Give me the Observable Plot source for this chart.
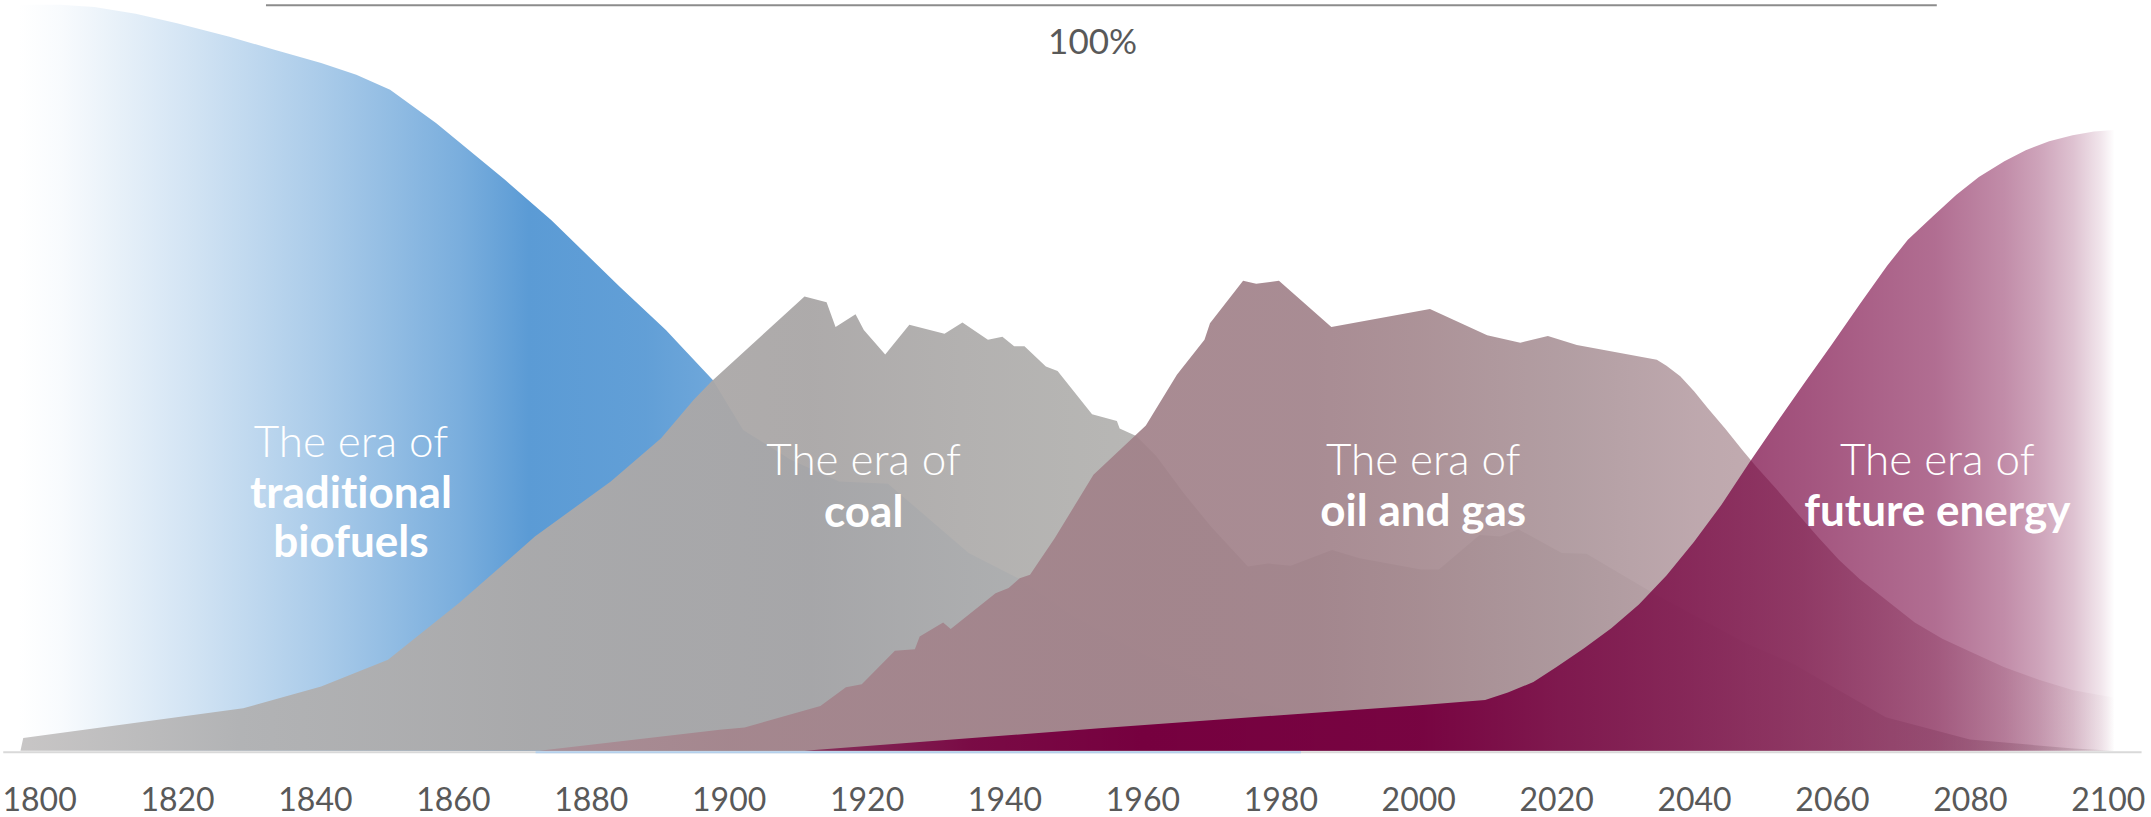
<!DOCTYPE html>
<html>
<head>
<meta charset="utf-8">
<script src="https://cdn.jsdelivr.net/npm/d3@7"></script>
<script src="https://cdn.jsdelivr.net/npm/@observablehq/plot@0.6"></script>
<style>
  html, body { margin: 0; padding: 0; background: #ffffff; }
  #chart { width: 2151px; height: 817px; }
  #chart svg text { font-variant-ligatures: none; font-feature-settings: "liga" 0, "clig" 0; }
</style>
</head>
<body>
<div id="chart"></div>
<script>
// ---------------- DATA (share of global energy, %) ----------------
const tickYears = [1800, 1820, 1840, 1860, 1880, 1900, 1920, 1940, 1960, 1980, 2000, 2020, 2040, 2060, 2080, 2100];

const biofuelYears = [1797, 1803, 1808, 1814, 1820, 1827.6, 1834, 1840.9, 1846, 1850.9, 1857.6, 1867.6, 1874.3, 1884.2, 1890.9, 1893, 1897.7, 1902.1, 1909, 1916, 1923.1, 1934.8, 1942.2, 1950, 1960, 1975, 1990, 2010, 2030];
const biofuelShare = [100, 100, 99.7, 98.8, 97.5, 95.7, 94, 92.2, 90.6, 88.6, 84.1, 76.5, 71.1, 62.2, 56.4, 54.3, 49.7, 43.0, 39.0, 36.1, 35.8, 26.5, 23.0, 18, 13, 7, 3, 0.5, 0];

const coalYears = [1797.3, 1797.7, 1829.6, 1840.9, 1850.6, 1860.9, 1871.9, 1882.9, 1890.2, 1894.9, 1897.5, 1911.0, 1914.2, 1915.5, 1918.4, 1919.6, 1922.7, 1926.2, 1931.3, 1933.9, 1937.6, 1939.7, 1941.4, 1942.9, 1946.0, 1947.7, 1952.7, 1956.3, 1956.7, 1959.1, 1962, 1966, 1970, 1975.3, 1978.2, 1981.5, 1987.5, 1991.5, 2000.4, 2003, 2008.9, 2011.9, 2014.5, 2020.8, 2024.4, 2034.1, 2047.5, 2054.3, 2061, 2067.8, 2080, 2095, 2101];
const coalShare = [0, 1.7, 5.7, 8.6, 12.2, 19.8, 28.7, 36.1, 41.9, 47.0, 49.5, 60.9, 60.1, 56.8, 58.5, 56.4, 53.1, 57.1, 55.9, 57.4, 55.1, 55.5, 54.2, 54.2, 51.5, 50.9, 45.1, 44.2, 43.2, 42.2, 39.5, 34.5, 30, 24.7, 25.1, 24.8, 26.9, 25.8, 24.3, 24.3, 28.9, 28.7, 29.7, 26.5, 26.4, 21.1, 14.4, 11.7, 8.1, 4.5, 1.5, 0.3, 0];

const oilYears = [1872.5, 1898.7, 1902.3, 1913.3, 1917.0, 1919.3, 1924.1, 1927.0, 1927.7, 1931.1, 1932.2, 1938.7, 1940.6, 1942.2, 1943.7, 1947.3, 1952.9, 1960.5, 1965, 1969.0, 1969.8, 1974.6, 1976.5, 1979.8, 1987.4, 2001.7, 2010.0, 2014.8, 2018.8, 2023.0, 2034.6, 2036, 2038, 2040, 2042, 2044.5, 2047, 2049, 2052, 2055, 2058, 2061, 2064, 2068, 2072, 2076, 2080, 2085, 2090, 2095, 2101];
const oilShare = [0, 2.8, 3.1, 6.0, 8.5, 8.9, 13.4, 13.6, 15.3, 17.2, 16.3, 21.1, 21.8, 23.1, 23.6, 28.5, 37.0, 43.6, 50.4, 55.1, 57.3, 63.0, 62.6, 63.0, 56.8, 59.2, 55.7, 54.7, 55.6, 54.4, 52.4, 51.6, 50.2, 48.2, 45.9, 43.2, 40.3, 38.1, 35.0, 31.8, 28.6, 25.6, 23.0, 20.1, 17.2, 15.0, 13.3, 11.2, 9.5, 8.1, 7.1];

const futureYears = [1911, 1953.8, 2000.2, 2009.7, 2013, 2016.7, 2020, 2024, 2028, 2032, 2036, 2040, 2044, 2048, 2052, 2056, 2060, 2064, 2068, 2071, 2074.6, 2078, 2081.3, 2085, 2088.1, 2091.5, 2094.9, 2098, 2100.9];
const futureShare = [0, 3.0, 6.1, 6.8, 7.8, 9.2, 11.2, 13.7, 16.4, 19.6, 23.5, 28.0, 33.0, 38.6, 44.0, 49.3, 54.5, 59.8, 65.0, 68.5, 71.6, 74.5, 76.9, 79.0, 80.5, 81.7, 82.5, 83.0, 83.2];

const eraIntro = ["The era of", "The era of", "The era of", "The era of"];
const eraNameLines = [["traditional", "biofuels"], ["coal"], ["oil and gas"], ["future energy"]];
const topLabel = "100%";

// ---------------- ANNOTATION PLACEMENT (data units) ----------------
const eraLabelYear = [1845.15, 1919.5, 2000.65, 2075.2];
const eraIntroShare = [39.5, 36.96, 36.96, 36.96];
const eraNameShares = [[32.63, 26.01], [30.08], [30.25], [30.25]];
const topRule = {share: 100, from: 1832.9, to: 2075.2};
const topLabelPos = {year: 1952.7, share: 93.5};
const baseline = {from: 1794.8, to: 2104.9};
const baselineBlue = {from: 1872, to: 1983};

// ---------------- STYLE: horizontal gradients [year, color, opacity] ----------------
const gradientStops = {
  biofuels: [[1797, "#5b9bd5", 0], [1803, "#5b9bd5", 0.04], [1812, "#5b9bd5", 0.15], [1821, "#5b9bd5", 0.26],
             [1841, "#5b9bd5", 0.52], [1852, "#5b9bd5", 0.68], [1861, "#5b9bd5", 0.81], [1871, "#5b9bd5", 1],
             [1888, "#5b9bd5", 0.96], [1898, "#5b9bd5", 0.88], [2101, "#5b9bd5", 0.88]],
  coal: [[1797, "#c5c3c3", 0.95], [1829, "#b1b1b2", 0.95], [1870, "#adaaa9", 0.95], [1912, "#a9a6a6", 0.95],
         [1934, "#afadac", 0.95], [1950, "#b2b1af", 0.95], [1960, "#b4b3b1", 0.95], [2000, "#b8b6b5", 0.95],
         [2080, "#bbb9b8", 0.9], [2101, "#bbb9b8", 0.3]],
  oil: [[1872, "#aa8c95", 0.92], [1900, "#a4848c", 0.92], [1960, "#a18189", 0.92], [1985, "#a1828a", 0.92],
        [2000, "#a5898f", 0.92], [2022, "#ac969b", 0.92], [2040, "#b8a0a6", 0.92], [2055, "#bea6ab", 0.92],
        [2070, "#bea6ab", 0.65], [2085, "#bea6ab", 0.35], [2100, "#bea6ab", 0.05], [2101, "#bea6ab", 0]],
  future: [[1911, "#76003f", 0.65], [1935, "#76003f", 0.92], [1960, "#76003f", 1], [2000, "#76003f", 0.97],
           [2020, "#76003f", 0.84], [2040, "#76003f", 0.75], [2060, "#76003f", 0.65], [2075, "#76003f", 0.57],
           [2085, "#76003f", 0.45], [2090, "#76003f", 0.36], [2095, "#76003f", 0.24], [2099, "#76003f", 0.1],
           [2101, "#76003f", 0]]
};

// ---------------- BUILD ----------------
const rows = (xs, ys) => xs.map((x, i) => ({year: x, share: ys[i]}));
const biofuels = rows(biofuelYears, biofuelShare);
const coal = rows(coalYears, coalShare);
const oil = rows(oilYears, oilShare);
const future = rows(futureYears, futureShare);

const introRows = eraIntro.map((t, i) => ({year: eraLabelYear[i], share: eraIntroShare[i], text: t}));
const nameRows = eraNameLines.flatMap((lines, i) => lines.map((t, j) => ({year: eraLabelYear[i], share: eraNameShares[i][j], text: t})));

const chart = Plot.plot({
  width: 2151,
  height: 817,
  marginLeft: 39.1,
  marginRight: 43.2,
  marginTop: 4.7,
  marginBottom: 66.3,
  x: {domain: [1800, 2100], label: null},
  y: {domain: [0, 100], axis: null},
  style: {fontFamily: "Lato, 'Open Sans', sans-serif", fontSize: "32px", color: "#595959", background: "#ffffff", overflow: "visible"},
  marks: [
    Plot.areaY(biofuels, {x: "year", y: "share", fill: "url(#grad-biofuels)"}),
    Plot.areaY(coal, {x: "year", y: "share", fill: "url(#grad-coal)"}),
    Plot.areaY(oil, {x: "year", y: "share", fill: "url(#grad-oil)"}),
    Plot.areaY(future, {x: "year", y: "share", fill: "url(#grad-future)"}),
    Plot.ruleY([0], {x1: baseline.from, x2: baseline.to, stroke: "#d9d9d9", strokeWidth: 2, dy: 1}),
    Plot.ruleY([0], {x1: baselineBlue.from, x2: baselineBlue.to, stroke: "#b4d0ec", strokeWidth: 2, dy: 1}),
    Plot.ruleY([topRule.share], {x1: topRule.from, x2: topRule.to, stroke: "#8c8c8c", strokeWidth: 2}),
    Plot.text([topLabel], {x: () => topLabelPos.year, y: () => topLabelPos.share, text: d => d, fontSize: 35, fill: "#595959", fontFamily: "Lato", lineAnchor: "bottom", textAnchor: "middle"}),
    Plot.text(introRows, {x: "year", y: "share", text: "text", fill: "white", fontSize: 44, fontWeight: 300, fontFamily: "Lato", lineAnchor: "bottom", textAnchor: "middle"}),
    Plot.text(nameRows, {x: "year", y: "share", text: "text", fill: "white", fontSize: 44, fontWeight: 700, fontFamily: "Lato", lineAnchor: "bottom", textAnchor: "middle"}),
    Plot.axisX({ticks: tickYears, tickFormat: d3.format("d"), tickSize: 0, tickPadding: 37, label: null, fill: "#595959"})
  ]
});

// gradients defined in data space through the plot's own x scale
const xScale = chart.scale("x");
const defs = d3.select(chart).insert("defs", ":first-child");
for (const [key, stops] of Object.entries(gradientStops)) {
  const a = stops[0][0], b = stops[stops.length - 1][0];
  const g = defs.append("linearGradient")
    .attr("id", "grad-" + key)
    .attr("gradientUnits", "userSpaceOnUse")
    .attr("x1", xScale.apply(a)).attr("x2", xScale.apply(b))
    .attr("y1", 0).attr("y2", 0);
  for (const [yr, col, op] of stops) {
    g.append("stop").attr("offset", (yr - a) / (b - a)).attr("stop-color", col).attr("stop-opacity", op);
  }
}

document.getElementById("chart").appendChild(chart);
</script>
</body>
</html>
